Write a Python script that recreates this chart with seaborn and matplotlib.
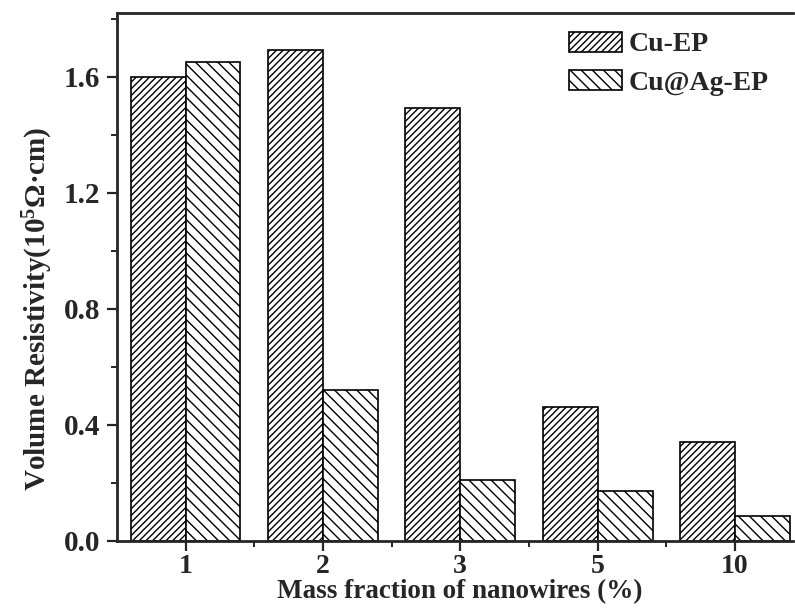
import matplotlib
matplotlib.use("Agg")
import matplotlib.pyplot as plt
from matplotlib.patches import Patch
from matplotlib.ticker import FixedLocator, FormatStrFormatter
import pandas as pd
import seaborn as sns

# Volume resistivity (10^5 Ω·cm) vs. nanowire mass fraction
fractions = ["1", "2", "3", "5", "10"]
cu_ep = [1.60, 1.69, 1.49, 0.46, 0.34]
cu_ag_ep = [1.65, 0.52, 0.21, 0.17, 0.085]
series_names = ["Cu-EP", "Cu@Ag-EP"]
hatches = ["/////", "\\\\\\"]

df = pd.DataFrame({
    "fraction": fractions * 2,
    "resistivity": cu_ep + cu_ag_ep,
    "material": [series_names[0]] * len(fractions) + [series_names[1]] * len(fractions),
})

sns.set_style("ticks")
plt.rcParams["font.family"] = ["Liberation Serif", "DejaVu Serif"]
plt.rcParams["font.weight"] = "bold"
plt.rcParams["mathtext.fontset"] = "custom"
plt.rcParams["mathtext.rm"] = "Liberation Serif:bold"
plt.rcParams["mathtext.it"] = "Liberation Serif:bold"
plt.rcParams["mathtext.bf"] = "Liberation Serif:bold"
plt.rcParams["hatch.linewidth"] = 1.0

fig = plt.figure(figsize=(7.95, 6.08), dpi=100)
ax = fig.add_axes([0.147, 0.111, 0.850, 0.868])

sns.barplot(data=df, x="fraction", y="resistivity", hue="material",
            order=fractions, hue_order=series_names,
            palette=["white", "white"], edgecolor="black", linewidth=1.2,
            width=0.8, saturation=1, ax=ax, legend=False)

for container, hatch in zip(ax.containers, hatches):
    for bar in container:
        bar.set_hatch(hatch)
        bar.set_edgecolor("black")

ax.set_xlim(-0.5, 4.42)
ax.set_ylim(0, 1.82)
ax.yaxis.set_major_locator(FixedLocator([0.0, 0.4, 0.8, 1.2, 1.6]))
ax.yaxis.set_minor_locator(FixedLocator([0.2, 0.6, 1.0, 1.4, 1.8]))
ax.yaxis.set_major_formatter(FormatStrFormatter("%.1f"))
ax.xaxis.set_minor_locator(FixedLocator([0.5, 1.5, 2.5, 3.5]))

for side in ["left", "bottom", "top"]:
    ax.spines[side].set_linewidth(2.0)
    ax.spines[side].set_visible(True)
ax.spines["right"].set_visible(False)

ax.tick_params(axis="both", which="major", direction="out", length=7, width=1.6)
ax.tick_params(axis="x", which="major", pad=3, labelsize=20)
ax.tick_params(axis="y", which="major", pad=5, labelsize=21)
ax.tick_params(axis="both", which="minor", direction="out", length=4, width=1.4)
for lbl in ax.get_xticklabels() + ax.get_yticklabels():
    lbl.set_fontweight("bold")

ax.set_xlabel("Mass fraction of nanowires (%)", fontsize=19.5, fontweight="bold")
ax.set_ylabel("Volume Resistivity(10$^{5}$Ω·cm)", fontsize=21, fontweight="bold")
ax.xaxis.set_label_coords(0.508, -0.073)
ax.yaxis.set_label_coords(-0.091, 0.44)

handles = [Patch(facecolor="white", edgecolor="black", hatch=h, linewidth=1.2, label=n)
           for h, n in zip(hatches, series_names)]
ax.legend(handles=handles, loc="upper left", bbox_to_anchor=(0.653, 0.985), frameon=False,
          prop={"family": "Liberation Serif", "weight": "bold", "size": 20},
          handlelength=1.9, handleheight=0.72, handletextpad=0.25, labelspacing=0.45,
          borderaxespad=0.0)

fig.savefig("out.png", dpi=100)
